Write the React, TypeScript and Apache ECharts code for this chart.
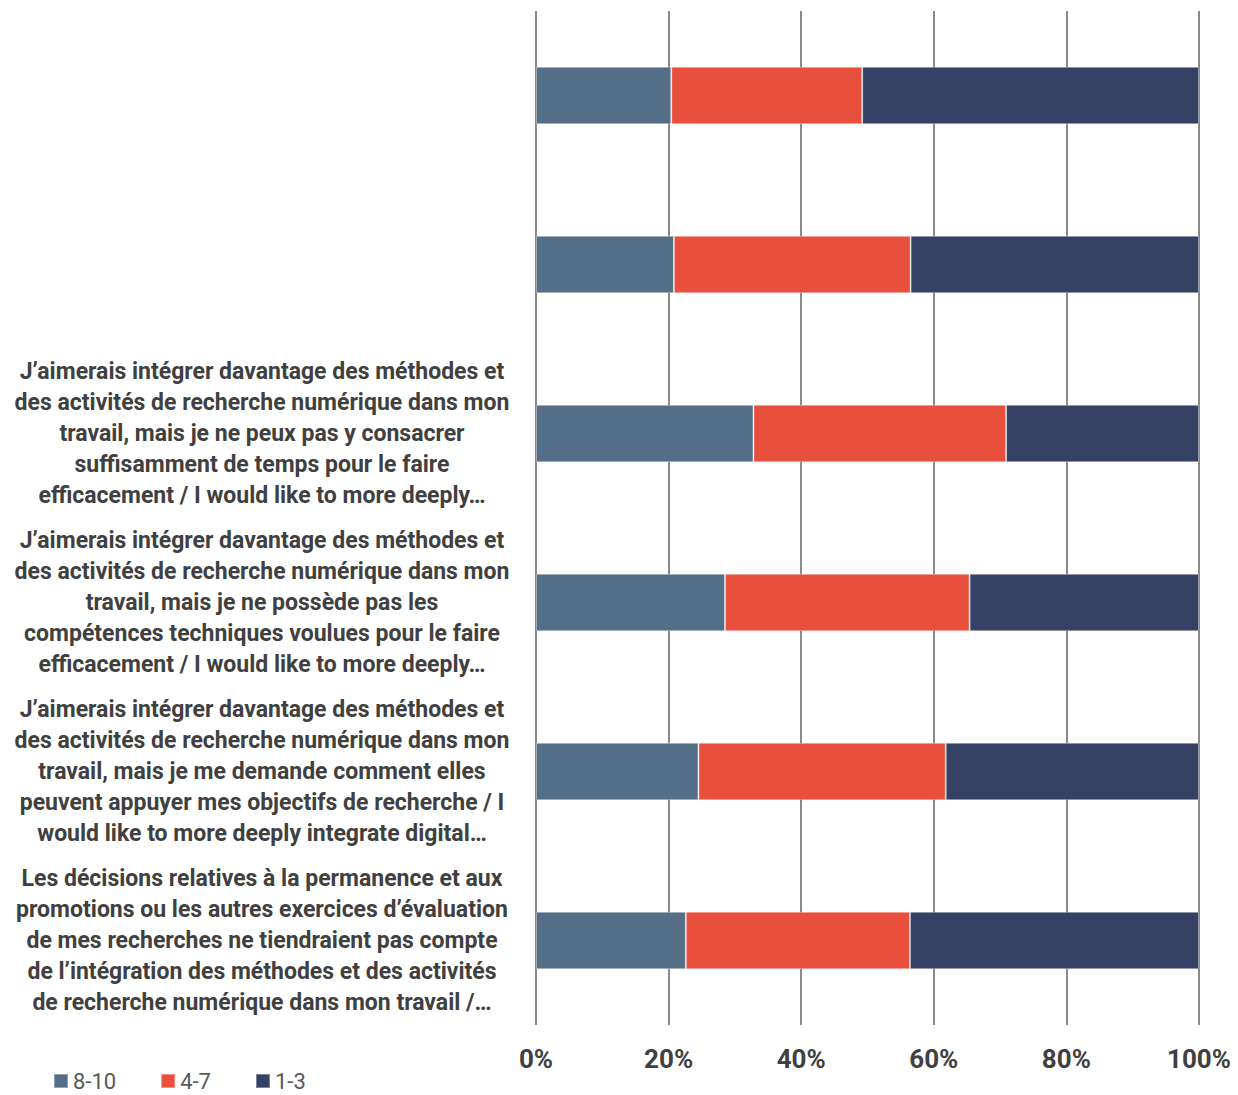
import React, { useEffect, useRef } from "react";
import * as echarts from "echarts";

const categories: string[] = [
  "",
  "",
  "J’aimerais intégrer davantage des méthodes et\ndes activités de recherche numérique dans mon\ntravail, mais je ne peux pas y consacrer\nsuffisamment de temps pour le faire\nefficacement / I would like to more deeply…",
  "J’aimerais intégrer davantage des méthodes et\ndes activités de recherche numérique dans mon\ntravail, mais je ne possède pas les\ncompétences techniques voulues pour le faire\nefficacement / I would like to more deeply…",
  "J’aimerais intégrer davantage des méthodes et\ndes activités de recherche numérique dans mon\ntravail, mais je me demande comment elles\npeuvent appuyer mes objectifs de recherche / I\nwould like to more deeply integrate digital…",
  "Les décisions relatives à la permanence et aux\npromotions ou les autres exercices d’évaluation\nde mes recherches ne tiendraient pas compte\nde l’intégration des méthodes et des activités\nde recherche numérique dans mon travail /…",
];

const high: number[] = [20.4, 20.8, 32.8, 28.5, 24.5, 22.6];
const mid: number[] = [28.8, 35.7, 38.1, 36.9, 37.3, 33.8];
const low: number[] = [50.8, 43.5, 29.1, 34.6, 38.2, 43.6];

const seriesNames: string[] = ["8-10", "4-7", "1-3"];
const colors: string[] = ["#546E88", "#E84F3D", "#354265"];
const xTicks: string[] = ["0%", "20%", "40%", "60%", "80%", "100%"];

const NARROW = "'Liberation Sans Narrow', 'Arial Narrow', Roboto, 'Liberation Sans', Arial, sans-serif";

export default function App() {
  const ref = useRef<HTMLDivElement>(null);
  useEffect(() => {
    if (!ref.current) return;
    const chart = echarts.init(ref.current, undefined, { renderer: "svg" });
    const values = [high, mid, low];
    chart.setOption({
      animation: false,
      backgroundColor: "#ffffff",
      grid: { left: 528, right: 31, top: 3, bottom: 70, containLabel: false, outerBoundsMode: "none" },
      legend: {
        left: 40,
        top: 1057,
        icon: "rect",
        itemWidth: 14,
        itemHeight: 14,
        itemGap: 44,
        textStyle: { fontSize: 22, color: "#595959", fontFamily: NARROW },
        data: seriesNames,
      },
      xAxis: {
        type: "value",
        min: 0,
        max: 100,
        interval: 20,
        axisLine: { show: false },
        axisTick: { show: false },
        splitLine: { show: true, lineStyle: { color: "#8a8a8a", width: 2 } },
        axisLabel: {
          margin: 21,
          fontSize: 26,
          fontWeight: "bold",
          color: "#404040",
          fontFamily: NARROW,
          formatter: (v: number) => xTicks[Math.round(v / 20)],
        },
      },
      yAxis: {
        type: "category",
        inverse: true,
        data: categories,
        axisLine: { show: false },
        axisTick: { show: false },
        axisLabel: {
          margin: 274,
          align: "center",
          fontSize: 23,
          lineHeight: 31,
          fontWeight: "bold",
          color: "#404040",
          fontFamily: NARROW,
        },
      },
      series: seriesNames.map((name, i) => ({
        name,
        type: "bar",
        stack: "total",
        barCategoryGap: "66%",
        data: values[i],
        itemStyle: { color: colors[i], borderColor: "rgba(255,255,255,0.35)", borderWidth: 1 },
      })),
    });
    return () => chart.dispose();
  }, []);
  return <div ref={ref} style={{ width: 1222, height: 1087 }} />;
}
